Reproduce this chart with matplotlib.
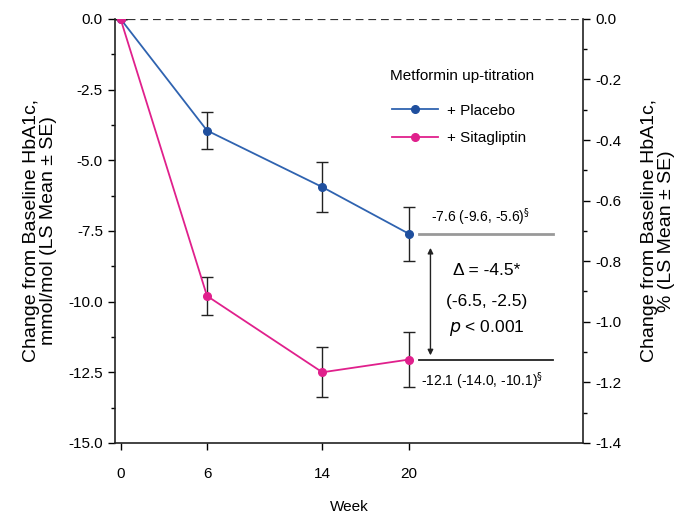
import matplotlib.pyplot as plt
from matplotlib.lines import Line2D
from matplotlib.ticker import MultipleLocator

plt.rcParams['font.family'] = ['Liberation Sans', 'DejaVu Sans']

weeks = [0, 6, 14, 20]
placebo = [0.0, -3.95, -5.95, -7.6]
placebo_se = [0.0, 0.65, 0.87, 0.96]
sita = [0.0, -9.8, -12.5, -12.05]
sita_se = [0.0, 0.66, 0.89, 0.97]

blue = '#2f63b0'
pink = '#e0208c'

fig = plt.figure(figsize=(6.79, 5.23), dpi=100)
ax = fig.add_axes([0.169, 0.153, 0.690, 0.811])

ax.axhline(0, color='#333333', ls=(0, (3.5, 2.2)), lw=1.6, zorder=1)

ax.errorbar(weeks, placebo, yerr=placebo_se, color=blue, marker='o', ms=5.5,
            mfc='#1f4f9e', mec='#1f4f9e', lw=1.3, ecolor='#222222',
            elinewidth=1, capsize=4, capthick=1, zorder=3)
ax.errorbar(weeks, sita, yerr=sita_se, color=pink, marker='o', ms=5.5,
            lw=1.3, ecolor='#222222', elinewidth=1, capsize=4, capthick=1,
            zorder=4)

# comparison annotation at week 20
ax.plot([20.7, 30.0], [placebo[3], placebo[3]], color='#999999', lw=2)
ax.plot([20.7, 30.0], [sita[3], sita[3]], color='#222222', lw=1.3)
ax.annotate('', xy=(21.5, -8.1), xytext=(21.5, -11.9),
            arrowprops=dict(arrowstyle='<|-|>', color='#222222', lw=1,
                            mutation_scale=8, shrinkA=0, shrinkB=0))
ax.text(25.0, -7.4, '-7.6 (-9.6, -5.6)$^{\\S}$', fontsize=10, ha='center', va='bottom')
ax.text(25.1, -12.45, '-12.1 (-14.0, -10.1)$^{\\S}$', fontsize=10, ha='center', va='top')
ax.text(25.4, -8.9, 'Δ = -4.5*', fontsize=12.5, ha='center', va='center')
ax.text(25.4, -10.0, '(-6.5, -2.5)', fontsize=12.5, ha='center', va='center')
ax.text(25.4, -10.95, '$p$ < 0.001', fontsize=12.5, ha='center', va='center')

ax.set_xlim(-0.4, 32.1)
ax.set_ylim(-15, 0)
ax.set_xticks(weeks)
ax.yaxis.set_major_locator(MultipleLocator(2.5))
ax.yaxis.set_minor_locator(MultipleLocator(1.25))
ax.yaxis.set_major_formatter(plt.FuncFormatter(lambda v, p: f'{v:.1f}'))
ax.tick_params(labelsize=11, width=1, length=5, direction='out')
ax.tick_params(axis='y', which='minor', length=3, width=1)
ax.tick_params(axis='x', pad=12)
ax.spines['top'].set_visible(False)
ax.spines['right'].set_visible(False)
for s in ['left', 'bottom']:
    ax.spines[s].set_linewidth(1.2)
    ax.spines[s].set_color('#222222')
ax.set_xlabel('Week', fontsize=11, labelpad=14)
ax.set_ylabel('Change from Baseline HbA1c,\nmmol/mol (LS Mean ± SE)', fontsize=14,
              labelpad=8, linespacing=1.0)

ax2 = ax.twinx()
ax2.set_ylim(-1.4, 0)
ax2.yaxis.set_major_locator(MultipleLocator(0.2))
ax2.yaxis.set_minor_locator(MultipleLocator(0.1))
ax2.yaxis.set_major_formatter(plt.FuncFormatter(lambda v, p: f'{v:.1f}'))
ax2.tick_params(labelsize=11, width=1, length=5, direction='out')
ax2.tick_params(which='minor', length=3, width=1)
for s in ['top', 'left', 'bottom']:
    ax2.spines[s].set_visible(False)
ax2.spines['right'].set_linewidth(1.2)
ax2.spines['right'].set_color('#222222')
ax2.set_ylabel('Change from Baseline HbA1c,\n% (LS Mean ± SE)', fontsize=14,
               labelpad=14, linespacing=1.0)

ax.text(0.588, 0.866, 'Metformin up-titration', transform=ax.transAxes,
        fontsize=11, ha='left', va='center')
handles = [Line2D([], [], color=blue, marker='o', ms=5.5, mfc='#1f4f9e', mec='#1f4f9e', lw=1.3),
           Line2D([], [], color=pink, marker='o', ms=5.5, lw=1.3)]
ax.legend(handles, ['+ Placebo', '+ Sitagliptin'], loc='upper left',
          bbox_to_anchor=(0.57, 0.825), frameon=False, fontsize=11,
          handlelength=3.0, handletextpad=0.6, labelspacing=0.9, borderpad=0.2)

fig.savefig('out.png', dpi=100)
